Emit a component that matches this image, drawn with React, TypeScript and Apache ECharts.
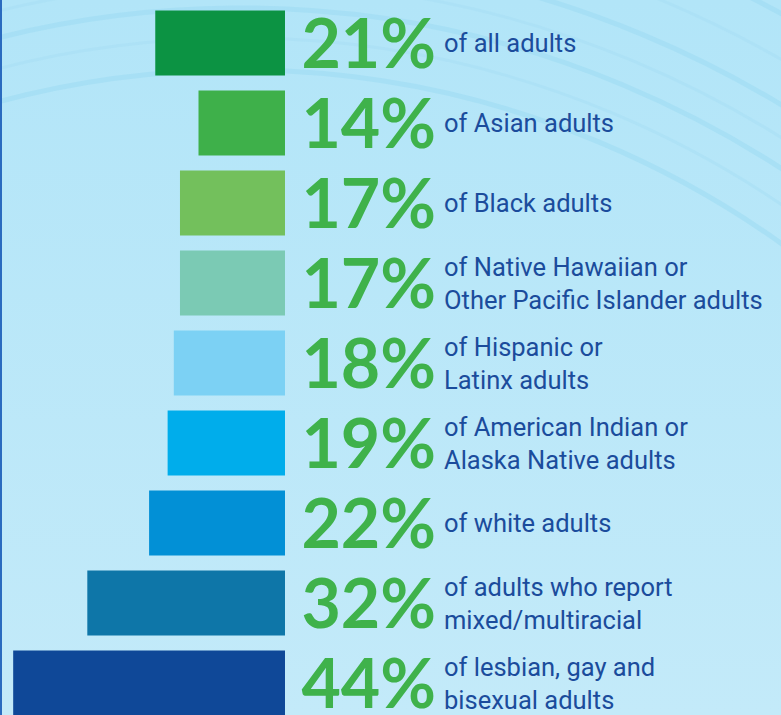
import React, { useEffect, useRef } from "react";
import * as echarts from "echarts";

const categories = [
  "of all adults",
  "of Asian adults",
  "of Black adults",
  "of Native Hawaiian or\nOther Pacific Islander adults",
  "of Hispanic or\nLatinx adults",
  "of American Indian or\nAlaska Native adults",
  "of white adults",
  "of adults who report\nmixed/multiracial",
  "of lesbian, gay and\nbisexual adults",
];
const values = [21, 14, 17, 17, 18, 19, 22, 32, 44];
const barColors = [
  "#0c9343",
  "#3eb04a",
  "#73c05c",
  "#7bcab4",
  "#7cd1f4",
  "#00adeb",
  "#0290d6",
  "#0e76a8",
  "#0f4898",
];
const arcRadii = [930, 962, 992, 1018, 1046, 1085, 1125];

export default function App() {
  const ref = useRef<HTMLDivElement>(null);
  useEffect(() => {
    if (!ref.current) return;
    const chart = echarts.init(ref.current, undefined, { renderer: "svg" });
    const arcs = arcRadii.map((r, i) => ({
      type: "arc",
      z: 0,
      silent: true,
      shape: { cx: 240, cy: 1000, r, startAngle: -1.95, endAngle: -0.4, clockwise: true },
      style: {
        fill: "none",
        stroke: i % 2 === 0 ? "#9cdaf2" : "#a8dff4",
        lineWidth: i % 2 === 0 ? 5 : 3,
        opacity: 0.55,
      },
    }));
    chart.setOption({
      animation: false,
      backgroundColor: {
        type: "linear",
        x: 0,
        y: 0,
        x2: 0,
        y2: 1,
        colorStops: [
          { offset: 0, color: "#b2e5f8" },
          { offset: 1, color: "#c3eaf9" },
        ],
      },
      graphic: [
        ...arcs,
        {
          type: "rect",
          z: 10,
          silent: true,
          shape: { x: 0, y: 0, width: 2, height: 715 },
          style: { fill: "#2a6bbf" },
        },
      ],
      grid: {
        left: 7,
        right: 496,
        top: 3,
        height: 720,
        containLabel: false,
        outerBoundsMode: "none",
      },
      xAxis: {
        type: "value",
        inverse: true,
        min: 0,
        max: 45,
        show: false,
        splitLine: { show: false },
      },
      yAxis: {
        type: "category",
        data: categories,
        inverse: true,
        position: "right",
        axisLine: { show: false },
        axisTick: { show: false },
        splitLine: { show: false },
        axisLabel: {
          interval: 0,
          margin: 159,
          align: "left",
          fontFamily: "Roboto",
          fontSize: 25.5,
          lineHeight: 33,
          color: "#1b4c9c",
          padding: [0, 0, 3, 0],
        },
      },
      series: [
        {
          type: "bar",
          data: values.map((v, i) => ({ value: v, itemStyle: { color: barColors[i] } })),
          barWidth: 65,
          z: 2,
          label: {
            show: true,
            position: "right",
            distance: 151,
            align: "right",
            verticalAlign: "middle",
            offset: [0, -2],
            formatter: "{c}%",
            fontFamily: "Lato",
            fontWeight: "bold",
            fontSize: 68,
            color: "#3fb24b",
          },
        },
      ],
    });
    return () => chart.dispose();
  }, []);
  return (
    <div
      ref={ref}
      style={{ position: "fixed", left: 0, top: 0, width: 781, height: 715, overflow: "hidden" }}
    />
  );
}
